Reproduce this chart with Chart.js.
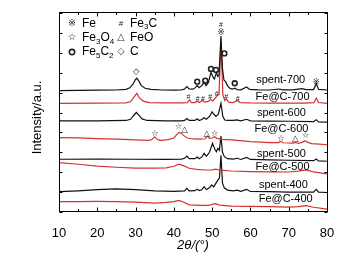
<!DOCTYPE html>
<html><head><meta charset="utf-8">
<script src="https://cdn.jsdelivr.net/npm/chart.js@4.4.0/dist/chart.umd.min.js"></script>
<style>html,body{margin:0;padding:0;background:#fff}</style>
</head><body>
<canvas id="c" width="363" height="261" style="width:363px;height:261px;display:block"></canvas>
<script>
// ---- data (2θ in degrees, intensity in arbitrary offset units) ----
const xTicks = [10, 20, 30, 40, 50, 60, 70, 80];
const seriesNames = ['spent-700','Fe@C-700','spent-600','Fe@C-600','spent-500','Fe@C-500','spent-400','Fe@C-400'];
const yTitle = 'Intensity/a.u.';

const spent700 = [[10,6.10],[15,6.11],[20,6.12],[25,6.13],[27.5,6.16],[28.5,6.24],[29.3,6.42],[30.0,6.66],[30.3,6.72],[30.8,6.60],[31.5,6.35],[32.5,6.22],[34,6.16],[37,6.13],[40,6.12],[42,6.14],[42.8,6.18],[43.4,6.30],[44,6.18],[45,6.17],[45.6,6.25],[46.1,6.36],[46.6,6.25],[47.3,6.35],[47.9,6.52],[48.4,6.35],[49.0,6.50],[49.7,7.02],[50.3,6.75],[50.6,6.68],[51.1,7.00],[51.5,6.80],[51.8,6.90],[52.3,8.84],[52.7,7.20],[53.1,6.62],[53.5,6.55],[54.0,6.35],[54.6,6.22],[55.3,6.18],[56.0,6.22],[56.5,6.15],[57.5,6.14],[59.0,6.28],[59.8,6.16],[62,6.14],[65,6.13],[67.5,6.18],[68.5,6.14],[71,6.14],[73.5,6.20],[74.5,6.15],[76.5,6.15],[77.2,6.45],[77.8,6.16],[80,6.13]];

const fec700 = [[10,5.46],[20,5.47],[27.5,5.48],[28.7,5.55],[29.5,5.75],[30.3,5.96],[31.0,5.75],[32,5.57],[33.5,5.50],[38,5.48],[42,5.48],[43.5,5.50],[44.1,5.64],[44.6,5.50],[45.5,5.50],[46.1,5.58],[46.6,5.50],[47.5,5.60],[48,5.52],[49.0,5.56],[49.6,5.66],[50.2,5.58],[50.8,5.72],[51.3,5.85],[51.8,5.90],[52.3,8.60],[52.8,5.90],[53.3,5.60],[53.7,5.68],[54.3,5.52],[55.5,5.50],[56.6,5.60],[57.3,5.50],[60,5.48],[65,5.47],[70,5.47],[74,5.47],[76.6,5.50],[77.2,5.73],[77.8,5.50],[80,5.46]];

const spent600 = [[10,4.58],[20,4.58],[27.5,4.60],[28.7,4.66],[29.5,4.85],[30.2,5.00],[30.8,4.88],[31.7,4.68],[33,4.60],[38,4.58],[42,4.58],[42.8,4.60],[43.4,4.70],[44,4.60],[45.5,4.60],[46.1,4.68],[46.6,4.60],[47.3,4.65],[47.9,4.74],[48.5,4.66],[49.3,4.80],[50.0,5.03],[50.5,4.90],[51.0,4.80],[51.6,4.90],[52.3,5.46],[52.8,4.80],[53.3,4.62],[54,4.60],[55.5,4.60],[56.5,4.63],[57.5,4.58],[59,4.66],[60,4.58],[65,4.57],[70,4.56],[76.5,4.54],[77.2,4.64],[77.8,4.53],[80,4.52]];

const fec600 = [[10,3.74],[15,3.72],[20,3.69],[25,3.66],[30,3.62],[33.5,3.60],[34.3,3.64],[35.0,3.78],[35.7,3.64],[36.5,3.60],[38.5,3.64],[40,3.72],[40.8,3.90],[41.4,4.00],[42,3.95],[42.5,3.85],[43.5,3.72],[45,3.67],[47,3.66],[48.2,3.68],[48.8,3.82],[49.3,3.70],[50.0,3.72],[50.6,3.78],[51.3,3.70],[52.5,3.65],[55,3.62],[58,3.57],[60,3.54],[63,3.51],[65,3.49],[67.3,3.49],[67.9,3.55],[68.5,3.48],[71,3.46],[71.8,3.49],[72.5,3.45],[73.5,3.50],[74.3,3.58],[75,3.50],[76,3.44],[78,3.41],[80,3.38]];

const spent500 = [[10,2.65],[20,2.66],[30,2.65],[38,2.64],[42,2.66],[42.8,2.70],[43.4,2.81],[44,2.68],[45.5,2.68],[46.1,2.76],[46.6,2.68],[47.4,2.78],[47.9,2.95],[48.5,2.80],[49.3,3.00],[50.1,3.45],[50.7,3.15],[51.1,3.03],[51.5,3.20],[51.9,3.10],[52.3,3.82],[52.7,3.00],[53.2,2.78],[54,2.68],[55.5,2.66],[56.5,2.70],[57.5,2.64],[59,2.74],[60,2.64],[65,2.62],[70,2.60],[76.5,2.58],[77.2,2.66],[77.8,2.57],[80,2.55]];

const fec500 = [[10,2.48],[15,2.40],[20,2.31],[25,2.25],[30,2.20],[35,2.20],[38,2.22],[40,2.30],[41.3,2.40],[42.5,2.33],[44,2.20],[46,2.14],[48,2.11],[50,2.12],[51,2.15],[52,2.10],[55,2.06],[60,2.03],[65,2.02],[70,2.01],[72.5,2.05],[74.5,2.12],[76.5,2.02],[80,1.92]];

const spent400 = [[10,1.02],[15,1.06],[20,1.12],[25,1.16],[30,1.12],[35,1.06],[40,1.04],[42.8,1.06],[43.4,1.19],[44,1.06],[45.5,1.07],[46.1,1.15],[46.6,1.08],[47.3,1.12],[47.9,1.27],[48.5,1.13],[49.3,1.22],[49.9,1.36],[50.4,1.26],[51.0,1.45],[51.5,1.60],[51.9,1.70],[52.3,2.85],[52.7,1.45],[53.2,1.20],[54,1.10],[55.5,1.06],[56.5,1.10],[57.5,1.04],[59,1.14],[60,1.03],[65,1.02],[70,1.00],[76.5,1.00],[77.2,1.14],[77.8,1.00],[80,0.98]];

const fec400 = [[10,0.52],[15,0.52],[20,0.53],[25,0.52],[30,0.50],[35,0.45],[38,0.48],[40,0.52],[41.3,0.58],[42.5,0.50],[44,0.36],[47,0.33],[49,0.33],[50.8,0.42],[52,0.35],[55,0.30],[60,0.28],[65,0.27],[70,0.25],[72.5,0.27],[74.5,0.32],[76.5,0.24],[80,0.14]];

// series label anchor points (2θ, intensity)
const labelAnchors = [[67.9,6.63],[68.4,5.78],[68.1,4.97],[68.1,4.16],[68.1,2.91],[68.4,2.28],[68.6,1.34],[69.2,0.64]];

// phase markers over peaks: [2θ, intensity, symbol]
const peakMarks = [
  [30.2,7.04,'◇'],
  [46.1,6.55,'o'],[48.2,6.60,'o'],[49.7,7.19,'o'],[51.0,7.14,'o'],[53.2,7.97,'o'],[55.9,6.47,'o'],
  [52.3,9.40,'#'],[52.3,9.03,'※'],[77.2,6.47,'※'],
  [43.8,5.79,'#'],[46.2,5.69,'#'],[47.6,5.69,'#'],[49.5,5.76,'#'],[51.2,5.91,'#'],[53.7,5.79,'#'],[56.7,5.68,'#'],
  [35.0,3.95,'☆'],[41.2,4.26,'☆'],[42.8,4.12,'△'],[48.6,3.95,'△'],[50.6,3.95,'☆'],[68.0,3.67,'☆'],[71.7,3.67,'△'],[74.4,3.83,'☆']
];

// phase key: [symbol, text parts]
const phaseKey = [
  ['※', [['Fe',0]]], ['#', [['Fe',0],['3',1],['C',0]]],
  ['☆', [['Fe',0],['3',1],['O',0],['4',1]]], ['△', [['FeO',0]]],
  ['o', [['Fe',0],['5',1],['C',0],['2',1]]], ['◇', [['C',0]]]
];

const seriesData = [spent700, fec700, spent600, fec600, spent500, fec500, spent400, fec400];
const BLACK = '#111111', RED = '#d2332e';
const FONT = '"Liberation Sans", Arial, sans-serif';
const SYMFONT = '"DejaVu Sans", sans-serif';

const deco = {
  id: 'deco',
  afterDraw(chart) {
    const {ctx, chartArea: a, scales: {x, y}} = chart;
    ctx.save();
    ctx.strokeStyle = '#000'; ctx.lineWidth = 1;
    const L = a.left + 0.5, R = a.right + 0.5, T = a.top - 0.5, B = a.bottom - 0.5;
    ctx.strokeRect(L, T, R - L, B - T);
    ctx.beginPath();
    for (let v = 10; v <= 80; v += 5) {
      const px = Math.round(x.getPixelForValue(v)) + 0.5;
      const len = v % 10 === 0 ? 4 : 2.5;
      ctx.moveTo(px, B); ctx.lineTo(px, B - len);
      ctx.moveTo(px, T); ctx.lineTo(px, T + len);
    }
    for (let v = 0; v <= 10; v += 1) {
      const py = Math.round(y.getPixelForValue(v)) + 0.5;
      ctx.moveTo(L, py); ctx.lineTo(L + 3, py);
      ctx.moveTo(R, py); ctx.lineTo(R - 3, py);
    }
    ctx.stroke();

    // y axis title
    ctx.save();
    ctx.translate(37, (a.top + a.bottom) / 2 + 5);
    ctx.rotate(-Math.PI / 2);
    ctx.fillStyle = '#000'; ctx.textAlign = 'center'; ctx.textBaseline = 'middle';
    ctx.font = '13px ' + FONT;
    ctx.fillText(yTitle, 0, 0);
    ctx.restore();

    // series labels
    ctx.fillStyle = '#000';
    ctx.textAlign = 'center'; ctx.textBaseline = 'middle';
    ctx.font = '11px ' + FONT;
    seriesNames.forEach((n, i) => {
      ctx.fillText(n, x.getPixelForValue(labelAnchors[i][0]), y.getPixelForValue(labelAnchors[i][1]));
    });

    // peak marks
    peakMarks.forEach(([vx, vy, s]) => {
      drawSym(ctx, s, x.getPixelForValue(vx), y.getPixelForValue(vy), 8.5);
    });

    // phase key (top-left inside plot)
    const rows = [a.top + 10.5, a.top + 25, a.top + 39];
    const colSym = [a.left + 13, a.left + 62], colTxt = [a.left + 23, a.left + 71];
    phaseKey.forEach(([s, parts], i) => {
      const r = Math.floor(i / 2), c = i % 2;
      drawSym(ctx, s, colSym[c], rows[r], 9.5);
      drawChem(ctx, parts, colTxt[c], rows[r]);
    });
    ctx.restore();
  }
};

function drawSym(ctx, s, px, py, size) {
  ctx.save();
  ctx.fillStyle = '#222'; ctx.strokeStyle = '#222';
  ctx.textAlign = 'center'; ctx.textBaseline = 'middle';
  if (s === 'o') {
    ctx.lineWidth = 1.6;
    ctx.beginPath(); ctx.arc(px, py, size * 0.28, 0, Math.PI * 2); ctx.stroke();
  } else if (s === '#') {
    ctx.font = (size - 1.5) + 'px ' + FONT; ctx.fillText(s, px, py);
  } else {
    ctx.font = size + 'px ' + SYMFONT; ctx.fillText(s, px, py);
  }
  ctx.restore();
}

function drawChem(ctx, parts, px, py) {
  ctx.save();
  ctx.fillStyle = '#000'; ctx.textAlign = 'left'; ctx.textBaseline = 'middle';
  let cx = px;
  parts.forEach(([t, sub]) => {
    ctx.font = (sub ? '8px ' : '12px ') + FONT;
    ctx.fillText(t, cx, py + (sub ? 3.5 : 0));
    cx += ctx.measureText(t).width;
  });
  ctx.restore();
}

const datasets = seriesData.map((d, i) => ({
  label: seriesNames[i],
  data: d.map(p => ({x: p[0], y: p[1]})),
  borderColor: i % 2 === 0 ? BLACK : RED,
  borderWidth: 1.2,
  pointRadius: 0,
  tension: 0,
  fill: false
}));

new Chart(document.getElementById('c'), {
  type: 'line',
  data: {datasets},
  options: {
    responsive: false,
    animation: false,
    events: [],
    layout: {padding: {top: 13, right: 36, left: 0, bottom: 0}},
    plugins: {legend: {display: false}, tooltip: {enabled: false}},
    scales: {
      x: {
        type: 'linear', min: 10, max: 80,
        afterBuildTicks: s => { s.ticks = xTicks.map(v => ({value: v})); },
        afterFit: s => { s.height = 49; },
        grid: {display: false},
        border: {display: false},
        ticks: {color: '#000', font: {size: 13, family: FONT}, padding: 6, maxRotation: 0},
        title: {display: true, text: '2θ/(°)', color: '#000', font: {size: 13, family: FONT, style: 'italic'}, padding: {top: 0, bottom: 8}}
      },
      y: {
        min: 0, max: 10,
        afterFit: s => { s.width = 59; },
        grid: {display: false},
        border: {display: false},
        ticks: {display: false},
        title: {display: false}
      }
    }
  },
  plugins: [deco]
});
</script>
</body></html>
